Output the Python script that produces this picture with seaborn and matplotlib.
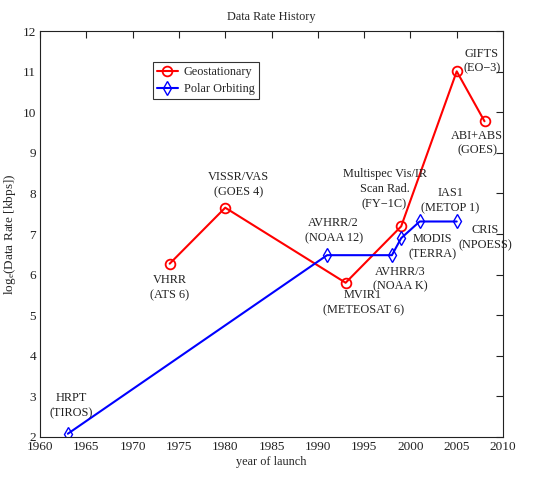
import matplotlib
matplotlib.use("Agg")
import matplotlib.pyplot as plt
import seaborn as sns
import pandas as pd

# ---- data ----
geo_years = [1974, 1980, 1993, 1999, 2005, 2008]
geo_rates = [6.27, 7.65, 5.80, 7.19, 11.01, 9.78]
polar_years = [1963, 1991, 1998, 1999, 2001, 2005]
polar_rates = [2.08, 6.48, 6.48, 6.90, 7.31, 7.31]

x_ticks = [1960, 1965, 1970, 1975, 1980, 1985, 1990, 1995, 2000, 2005, 2010]
y_ticks = [2, 3, 4, 5, 6, 7, 8, 9, 10, 11, 12]

labels = ["GIFTS\n(EO\u22123)", "ABI+ABS\n(GOES)", "VISSR/VAS\n(GOES 4)",
          "VHRR\n(ATS 6)", "Multispec Vis/IR\nScan Rad.\n(FY\u22121C)",
          "IAS1\n(METOP 1)", "AVHRR/2\n(NOAA 12)", "MODIS\n(TERRA)",
          "CRIS\n(NPOESS)", "AVHRR/3\n(NOAA K)", "MVIR1\n(METEOSAT 6)",
          "HRPT\n(TIROS)"]
# label placement (layout, in data units)
label_pos = [(2007.7, 11.26), (2007.2, 9.24), (1981.4, 8.22), (1974.0, 5.69),
             (1997.2, 8.11), (2004.3, 7.83), (1991.7, 7.09), (2002.4, 6.69),
             (2008.1, 6.91), (1998.9, 5.89), (1994.9, 5.31), (1963.4, 2.78)]

df_geo = pd.DataFrame({"year": geo_years, "rate": geo_rates})
df_pol = pd.DataFrame({"year": polar_years, "rate": polar_rates})

sns.set_style("white")
plt.rcParams["font.family"] = ["Liberation Serif", "DejaVu Serif"]
plt.rcParams["mathtext.fontset"] = "custom"
plt.rcParams["mathtext.rm"] = "Liberation Serif"
plt.rcParams["mathtext.it"] = "Liberation Serif"

FS = 8.8
fig = plt.figure(figsize=(5.34, 4.78), dpi=100)
ax = fig.add_axes([0.075, 0.0858, 0.867, 0.849])

sns.lineplot(data=df_geo, x="year", y="rate", ax=ax, color="#ff0000",
             marker="o", markersize=7, markerfacecolor="none",
             markeredgecolor="#ff0000", markeredgewidth=1.3, linewidth=1.5,
             label="Geostationary")
sns.lineplot(data=df_pol, x="year", y="rate", ax=ax, color="#0000ff",
             marker="d", markersize=7, markerfacecolor="none",
             markeredgecolor="#0000ff", markeredgewidth=1.0, linewidth=1.5,
             label="Polar Orbiting")

for txt, (tx, ty) in zip(labels, label_pos):
    ax.text(tx, ty, txt, ha="center", va="center", fontsize=FS,
            linespacing=1.35, color="#222222")

ax.set_xlim(1960, 2010)
ax.set_ylim(2, 12)
ax.set_xticks(x_ticks)
ax.set_yticks(y_ticks)
ax.tick_params(direction="in", top=True, right=True, length=5, width=0.8,
               labelsize=9.5, colors="#222222")
ax.tick_params(axis="x", pad=3)
ax.tick_params(axis="y", pad=3)
for s in ax.spines.values():
    s.set_linewidth(0.8)
    s.set_color("#222222")
ax.set_title("Data Rate History", fontsize=FS, pad=8)
ax.set_xlabel("year of launch", fontsize=FS, labelpad=2)
ax.set_ylabel(r"log$_e$(Data Rate [kbps])", fontsize=9.5, labelpad=3)

leg = ax.legend(loc="upper left", bbox_to_anchor=(0.243, 0.924), frameon=True,
                fancybox=False, edgecolor="black", fontsize=FS,
                handlelength=1.7, borderpad=0.35, labelspacing=0.4,
                handletextpad=0.5, borderaxespad=0)
leg.get_frame().set_linewidth(0.8)

fig.savefig("out.png", dpi=100)
